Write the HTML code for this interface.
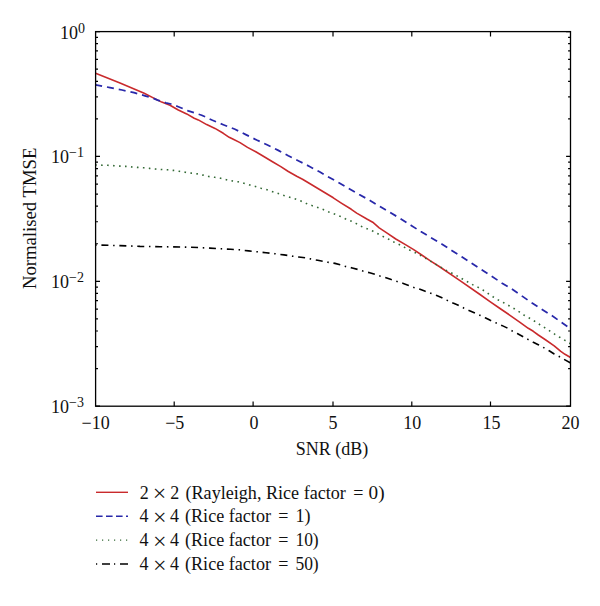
<!DOCTYPE html><html><head><meta charset="utf-8"><style>html,body{margin:0;padding:0;background:#fff;overflow:hidden;width:600px;height:606px;}svg{display:block;}text{font-family:"Liberation Serif",serif;fill:#111;}</style></head><body>
<svg width="600" height="606" viewBox="0 0 600 606">
<rect width="600" height="606" fill="#fff"/>
<polyline points="95.6,73.3 120.0,82.9 144.2,93.3 153.3,97.9 161.7,102.1 170.0,105.2 178.3,110.0 186.7,113.9 194.2,118.2 198.3,119.9 206.7,124.6 215.0,128.4 223.3,133.3 229.2,137.3 233.3,139.3 240.0,142.6 247.5,147.4 255.8,151.8 264.2,156.7 272.5,161.7 280.8,166.6 288.3,171.5 296.7,176.2 302.5,179.2 309.2,183.3 317.5,188.3 325.8,193.3 333.3,197.8 341.7,203.3 351.3,209.3 356.7,213.1 367.3,219.3 372.7,222.2 379.2,227.8 387.5,233.3 395.8,239.0 405.0,244.4 413.3,249.4 421.7,255.0 430.0,260.6 440.0,267.0 460.0,280.7 480.0,294.5 490.0,301.6 500.0,308.5 510.0,315.3 520.0,322.3 528.3,328.3 533.3,331.3 538.3,335.0 545.8,340.0 554.2,345.8 560.8,351.4 565.0,354.3 570.5,357.5" fill="none" stroke="#c92a2c" stroke-width="1.6" stroke-linejoin="round"/>
<polyline points="95.6,84.8 110.0,87.6 122.0,90.0 134.0,92.6 145.0,95.8 153.3,98.3 157.5,100.1 165.8,102.8 170.8,104.0 178.3,106.7 188.3,110.9 201.7,115.2 212.5,120.3 223.3,124.7 235.0,129.3 245.8,134.6 256.7,140.0 267.5,145.0 278.3,150.4 288.3,155.8 299.2,161.2 310.0,166.7 320.0,172.1 327.5,176.4 338.3,182.4 349.2,188.8 359.2,194.6 370.0,200.4 380.0,206.6 390.0,212.5 400.0,218.3 410.8,225.2 420.8,231.6 430.8,237.5 441.7,243.9 451.7,250.4 461.7,256.7 471.7,263.3 481.7,269.8 491.7,276.3 501.7,282.9 511.7,288.9 521.7,295.8 531.7,302.8 541.7,309.2 551.7,315.5 561.7,322.5 570.5,328.8" fill="none" stroke="#2828aa" stroke-width="1.75" stroke-dasharray="7 4.98" stroke-dashoffset="0.39"/>
<polyline points="95.6,165.0 102.0,165.2 108.0,165.3 114.0,165.7 120.0,166.1 126.0,166.4 132.0,167.0 138.0,167.4 144.0,167.8 149.5,168.4 155.3,169.0 161.3,169.5 167.3,169.8 173.3,170.4 179.3,171.3 185.3,172.3 191.3,173.1 197.3,173.9 203.1,175.1 208.7,176.5 214.7,177.3 220.7,178.3 226.3,179.7 232.3,180.9 238.1,181.8 243.9,183.3 249.7,184.9 255.4,186.4 261.0,188.2 267.0,189.7 272.7,191.7 278.3,193.6 284.1,195.6 289.7,197.2 295.4,199.0 301.0,201.1 306.4,203.5 312.0,205.6 317.7,207.4 323.3,209.6 328.9,212.0 334.4,214.0 340.0,216.3 345.3,218.8 350.9,221.0 356.3,223.6 361.7,226.5 367.1,228.8 372.7,231.1 377.9,233.8 383.3,236.6 388.8,239.3 393.8,242.0 399.2,244.5 405.0,247.6 410.0,250.2 415.4,252.8 420.8,255.6 430.0,260.9 438.3,265.8 446.7,270.6 452.0,273.2 457.0,275.9 462.5,279.0 467.5,281.8 472.5,284.6 478.3,287.4 483.3,290.3 488.3,293.7 493.3,297.0 498.3,300.0 503.7,302.7 509.0,305.7 514.3,308.7 519.3,311.9 524.2,315.2 529.2,318.0 534.6,321.2 539.6,324.5 544.6,327.6 549.6,330.8 554.6,334.1 559.6,337.2 565.0,340.4 570.5,343.8" fill="none" stroke="#346a36" stroke-width="1.6" stroke-dasharray="1.6 4.38" stroke-dashoffset="0.47" stroke-linecap="butt"/>
<polyline points="95.6,245.0 120.0,245.6 140.0,246.4 160.0,246.7 190.0,247.2 209.8,248.1 221.3,248.8 230.7,249.3 239.3,249.8 248.7,250.9 257.3,251.8 266.0,252.7 274.7,253.7 284.0,254.9 292.7,256.2 298.7,257.0 305.0,257.8 310.3,258.9 317.7,260.3 323.0,261.3 327.7,262.2 335.0,263.4 340.3,264.8 345.7,266.5 352.3,268.0 357.7,269.4 363.0,271.1 369.7,272.8 375.0,274.3 380.0,276.0 386.0,277.7 391.3,279.6 397.3,281.6 403.3,283.4 408.7,285.4 414.0,287.5 420.0,289.2 425.3,291.3 430.7,293.3 436.7,295.6 442.0,297.7 447.3,300.4 453.0,303.0 458.3,305.2 463.7,308.0 469.0,310.6 474.3,312.8 480.3,315.4 485.7,318.0 490.3,320.3 496.3,323.0 501.7,325.4 507.0,327.9 512.3,331.0 517.7,333.7 522.7,336.5 527.9,339.4 533.3,342.3 538.8,345.0 544.2,347.9 549.2,350.8 554.2,354.0 559.6,356.8 565.0,359.9 570.5,362.9" fill="none" stroke="#000" stroke-width="1.6" stroke-dasharray="7 4.7 1.5 4.73" stroke-dashoffset="12.1"/>
<rect x="95.6" y="31.6" width="474.9" height="374.59999999999997" fill="none" stroke="#000" stroke-width="1.3"/>
<path d="M174.20,406.2v-4.8M174.20,31.6v4.8M253.10,406.2v-4.8M253.10,31.6v4.8M333.00,406.2v-4.8M333.00,31.6v4.8M411.80,406.2v-4.8M411.80,31.6v4.8M490.50,406.2v-4.8M490.50,31.6v4.8M95.6,31.60h4.4M570.5,31.60h-4.4M95.6,156.47h4.4M570.5,156.47h-4.4M95.6,281.33h4.4M570.5,281.33h-4.4M95.6,406.20h4.4M570.5,406.20h-4.4M95.6,118.88h2.4M570.5,118.88h-2.4M95.6,96.89h2.4M570.5,96.89h-2.4M95.6,81.29h2.4M570.5,81.29h-2.4M95.6,69.19h2.4M570.5,69.19h-2.4M95.6,59.30h2.4M570.5,59.30h-2.4M95.6,50.94h2.4M570.5,50.94h-2.4M95.6,43.70h2.4M570.5,43.70h-2.4M95.6,37.31h2.4M570.5,37.31h-2.4M95.6,243.74h2.4M570.5,243.74h-2.4M95.6,221.76h2.4M570.5,221.76h-2.4M95.6,206.16h2.4M570.5,206.16h-2.4M95.6,194.06h2.4M570.5,194.06h-2.4M95.6,184.17h2.4M570.5,184.17h-2.4M95.6,175.81h2.4M570.5,175.81h-2.4M95.6,168.57h2.4M570.5,168.57h-2.4M95.6,162.18h2.4M570.5,162.18h-2.4M95.6,368.61h2.4M570.5,368.61h-2.4M95.6,346.62h2.4M570.5,346.62h-2.4M95.6,331.02h2.4M570.5,331.02h-2.4M95.6,318.92h2.4M570.5,318.92h-2.4M95.6,309.03h2.4M570.5,309.03h-2.4M95.6,300.68h2.4M570.5,300.68h-2.4M95.6,293.43h2.4M570.5,293.43h-2.4M95.6,287.05h2.4M570.5,287.05h-2.4" stroke="#000" stroke-width="1.2" fill="none"/>
<text x="95.6" y="428.5" font-size="18" text-anchor="middle">−10</text>
<text x="174.8" y="428.5" font-size="18" text-anchor="middle">−5</text>
<text x="253.9" y="428.5" font-size="18" text-anchor="middle">0</text>
<text x="333.0" y="428.5" font-size="18" text-anchor="middle">5</text>
<text x="412.2" y="428.5" font-size="18" text-anchor="middle">10</text>
<text x="491.4" y="428.5" font-size="18" text-anchor="middle">15</text>
<text x="570.5" y="428.5" font-size="18" text-anchor="middle">20</text>
<text x="85.1" y="39.2" font-size="18" text-anchor="end">10<tspan font-size="14" dy="-6.2">0</tspan></text>
<text x="84.0" y="163.2" font-size="18" text-anchor="end">10<tspan font-size="14" dy="-6.2">−1</tspan></text>
<text x="84.0" y="288.0" font-size="18" text-anchor="end">10<tspan font-size="14" dy="-6.2">−2</tspan></text>
<text x="84.0" y="412.9" font-size="18" text-anchor="end">10<tspan font-size="14" dy="-6.2">−3</tspan></text>
<text x="332" y="455" font-size="18" text-anchor="middle">SNR (dB)</text>
<text transform="translate(35.9,218.3) rotate(-90)" font-size="18" text-anchor="middle" textLength="141.5" lengthAdjust="spacingAndGlyphs">Normalised TMSE</text>
<line x1="96" y1="492.3" x2="128" y2="492.3" stroke="#c92a2c" stroke-width="1.4"/>
<text x="144.3" y="498.5" font-size="18" text-anchor="middle">2</text>
<text x="159.5" y="500.8" font-size="24" text-anchor="middle">×</text>
<text x="174.8" y="498.5" font-size="18" text-anchor="middle">2</text>
<text x="185.5" y="498.5" font-size="18" textLength="160.4" lengthAdjust="spacingAndGlyphs">(Rayleigh, Rice factor</text>
<text x="358.3" y="498.5" font-size="18" text-anchor="middle">=</text>
<text x="368.6" y="498.5" font-size="18" textLength="16.0" lengthAdjust="spacingAndGlyphs">0)</text>
<line x1="96" y1="516.2" x2="128" y2="516.2" stroke="#2828aa" stroke-width="1.4" stroke-dasharray="6.6 3.4"/>
<text x="144.1" y="522.4" font-size="18" text-anchor="middle">4</text>
<text x="159.7" y="524.7" font-size="24" text-anchor="middle">×</text>
<text x="174.6" y="522.4" font-size="18" text-anchor="middle">4</text>
<text x="185.0" y="522.4" font-size="18" textLength="86.0" lengthAdjust="spacingAndGlyphs">(Rice factor</text>
<text x="283.3" y="522.4" font-size="18" text-anchor="middle">=</text>
<text x="295.4" y="522.4" font-size="18" textLength="15.0" lengthAdjust="spacingAndGlyphs">1)</text>
<line x1="96" y1="540.1" x2="128" y2="540.1" stroke="#346a36" stroke-width="1.2" stroke-dasharray="1.2 4.8"/>
<text x="144.1" y="546.3" font-size="18" text-anchor="middle">4</text>
<text x="159.7" y="548.6" font-size="24" text-anchor="middle">×</text>
<text x="174.6" y="546.3" font-size="18" text-anchor="middle">4</text>
<text x="185.0" y="546.3" font-size="18" textLength="86.0" lengthAdjust="spacingAndGlyphs">(Rice factor</text>
<text x="283.3" y="546.3" font-size="18" text-anchor="middle">=</text>
<text x="295.4" y="546.3" font-size="18" textLength="23.3" lengthAdjust="spacingAndGlyphs">10)</text>
<line x1="96" y1="564.0" x2="128" y2="564.0" stroke="#000" stroke-width="1.3" stroke-dasharray="1.2 4.8 8 4"/>
<text x="144.1" y="570.2" font-size="18" text-anchor="middle">4</text>
<text x="159.7" y="572.5" font-size="24" text-anchor="middle">×</text>
<text x="174.6" y="570.2" font-size="18" text-anchor="middle">4</text>
<text x="185.0" y="570.2" font-size="18" textLength="86.0" lengthAdjust="spacingAndGlyphs">(Rice factor</text>
<text x="283.3" y="570.2" font-size="18" text-anchor="middle">=</text>
<text x="295.4" y="570.2" font-size="18" textLength="23.3" lengthAdjust="spacingAndGlyphs">50)</text>
</svg></body></html>
